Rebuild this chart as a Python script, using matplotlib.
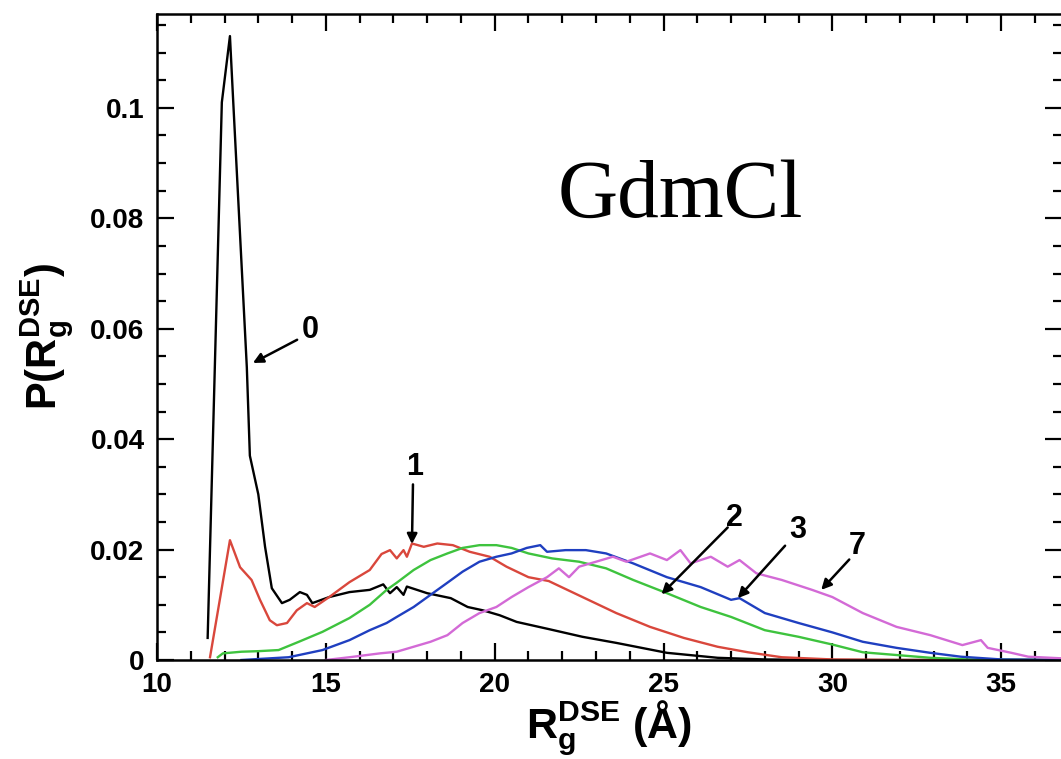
import matplotlib
matplotlib.use("Agg")
import matplotlib.pyplot as plt
from matplotlib.ticker import MultipleLocator, FixedLocator

# Rg distributions of the denatured state ensemble at several GdmCl concentrations (M)
x_0M = [11.5, 11.92, 12.16, 12.25, 12.66, 12.75, 13.0, 13.2, 13.4, 13.7, 13.93, 14.23, 14.44, 14.6,
        15.1, 15.7, 16.3, 16.7, 16.9, 17.1, 17.3, 17.4, 18.0, 18.7, 19.2, 19.65, 20.15, 20.65, 21.6,
        22.6, 23.6, 25.1, 26.6, 28.0, 30.0, 32.0, 36.8]
p_0M = [0.004, 0.101, 0.113, 0.102, 0.053, 0.037, 0.030, 0.0205, 0.013, 0.0103, 0.0109, 0.0123, 0.0118, 0.0103,
        0.0114, 0.0123, 0.0127, 0.0137, 0.0121, 0.0132, 0.0118, 0.0133, 0.0121, 0.0112, 0.0096, 0.0090, 0.0081, 0.0069, 0.0056,
        0.0042, 0.0031, 0.0013, 0.0004, 0.0001, 0.0, 0.0, 0.0]

x_1M = [11.57, 12.16, 12.46, 12.8, 13.05, 13.34, 13.55, 13.85, 14.14, 14.44, 14.67, 15.1, 15.7, 16.3,
        16.65, 16.9, 17.1, 17.3, 17.4, 17.55, 17.9, 18.3, 18.76, 19.26, 19.85, 20.35, 21.0, 21.6, 22.6,
        23.6, 24.6, 25.6, 26.6, 27.5, 28.5, 30.0, 32.0, 36.8]
p_1M = [0.0005, 0.0217, 0.0168, 0.0145, 0.0109, 0.0072, 0.0063, 0.0067, 0.009, 0.0103, 0.0096, 0.0114, 0.0141, 0.0163,
        0.0192, 0.0199, 0.0184, 0.0199, 0.0187, 0.0211, 0.0205, 0.0211, 0.0208, 0.0196, 0.0187, 0.0169, 0.0150, 0.0143, 0.0114,
        0.0085, 0.006, 0.004, 0.0024, 0.0014, 0.0005, 0.0001, 0.0, 0.0]

x_2M = [11.8, 11.95, 12.5, 13.0, 13.6, 14.2, 14.9, 15.7, 16.3, 16.8, 17.1, 17.6, 18.1, 18.6, 19.05,
        19.55, 20.05, 20.5, 21.0, 21.7, 22.5, 23.3, 24.1, 25.1, 26.1, 27.0, 28.0, 29.0, 30.0, 30.9,
        31.9, 32.9, 34.0, 36.8]
p_2M = [0.0005, 0.0012, 0.0015, 0.0016, 0.0018, 0.0033, 0.0051, 0.0076, 0.01, 0.0127, 0.014, 0.0163, 0.0181, 0.0193, 0.0203,
        0.0208, 0.0208, 0.0203, 0.0193, 0.0184, 0.0178, 0.0166, 0.0145, 0.0121, 0.0096, 0.0078, 0.0054, 0.0042, 0.0028, 0.0014,
        0.0009, 0.0004, 0.0001, 0.0]

x_3M = [12.5, 13.9, 14.9, 15.7, 16.3, 16.8, 17.1, 17.6, 18.1, 18.6, 19.05, 19.55, 20.05, 20.5, 20.95,
        21.35, 21.55, 22.1, 22.7, 23.3, 24.1, 25.1, 26.1, 27.0, 27.25, 28.0, 29.0, 30.0, 30.9, 31.9,
        32.9, 33.8, 35.0, 36.8]
p_3M = [0.0, 0.0005, 0.0018, 0.0036, 0.0054, 0.0067, 0.0078, 0.0096, 0.0118, 0.014, 0.016, 0.0178, 0.0187, 0.0193, 0.0203,
        0.0208, 0.0196, 0.0199, 0.0199, 0.0193, 0.0175, 0.015, 0.0132, 0.0109, 0.0112, 0.0085, 0.0067, 0.005, 0.0033, 0.0022,
        0.0013, 0.0006, 0.0001, 0.0]

x_7M = [15.0, 15.7, 16.6, 17.1, 17.6, 18.1, 18.6, 19.05, 19.55, 20.05, 20.5, 21.0, 21.55, 21.9, 22.2,
        22.5, 23.0, 23.5, 23.9, 24.6, 25.1, 25.5, 25.8, 26.4, 26.9, 27.25, 27.75, 28.5, 29.4, 30.0,
        30.9, 31.9, 32.9, 33.85, 34.4, 34.6, 35.3, 35.8, 36.8]
p_7M = [0.0, 0.0005, 0.0012, 0.0015, 0.0024, 0.0033, 0.0045, 0.0067, 0.0085, 0.0096, 0.0114, 0.0132, 0.015, 0.0166, 0.015,
        0.0169, 0.0178, 0.0187, 0.0178, 0.0193, 0.0181, 0.0199, 0.0175, 0.0187, 0.0169, 0.0181, 0.0157, 0.0145, 0.0127, 0.0114,
        0.0085, 0.006, 0.0045, 0.0027, 0.0036, 0.0022, 0.0013, 0.0006, 0.0003]

# curve labels: (text, label position, arrow tail, arrow tip)
labels = [
    ("0", (14.55, 0.0598), (14.15, 0.0580), (12.84, 0.0538)),
    ("1", (17.63, 0.0350), (17.58, 0.0318), (17.55, 0.0210)),
    ("2", (27.1, 0.0257), (26.9, 0.0240), (24.94, 0.0119)),
    ("3", (28.98, 0.0236), (28.6, 0.0207), (27.2, 0.0112)),
    ("7", (30.75, 0.0207), (30.5, 0.0182), (29.67, 0.0127)),
]

yticks = [0, 0.02, 0.04, 0.06, 0.08, 0.1]
ytick_labels = ["0", "0.02", "0.04", "0.06", "0.08", "0.1"]
xticks = [10, 15, 20, 25, 30, 35]

plt.rcParams["font.family"] = "Liberation Sans"
plt.rcParams["font.weight"] = "bold"
plt.rcParams["mathtext.fontset"] = "custom"
plt.rcParams["mathtext.rm"] = "Liberation Sans:bold"
plt.rcParams["mathtext.bf"] = "Liberation Sans:bold"
plt.rcParams["mathtext.it"] = "Liberation Sans:bold"

fig = plt.figure(figsize=(10.61, 7.59), dpi=100)
ax = fig.add_axes([157 / 1061, 1 - 660 / 759, 905 / 1061, 646 / 759])

lw = 1.7
ax.plot(x_0M, p_0M, color="black", lw=lw)
ax.plot(x_1M, p_1M, color="#d9473c", lw=lw)
ax.plot(x_2M, p_2M, color="#3ec33e", lw=lw)
ax.plot(x_3M, p_3M, color="#1f3fc0", lw=lw)
ax.plot(x_7M, p_7M, color="#d36ad6", lw=lw)

for txt, pos, tail, tip in labels:
    ax.text(pos[0], pos[1], txt, fontsize=22, fontweight="bold", ha="center", va="center")
    ax.annotate("", xy=tip, xytext=tail,
                arrowprops=dict(arrowstyle="-|>", color="black", lw=1.8,
                                mutation_scale=15, shrinkA=0, shrinkB=0))

ax.text(25.5, 0.0802, "GdmCl", family="Liberation Serif", fontweight="normal",
        fontsize=60, ha="center", va="baseline")

ax.set_xlim(10, 36.8)
ax.set_ylim(0, 0.117)
ax.xaxis.set_major_locator(FixedLocator(xticks))
ax.xaxis.set_minor_locator(MultipleLocator(1))
ax.set_yticks(yticks, ytick_labels)
ax.yaxis.set_minor_locator(MultipleLocator(0.005))
ax.tick_params(which="both", direction="in", top=True, right=True, width=1.6,
               labelsize=20, pad=9)
ax.tick_params(which="major", length=12)
ax.tick_params(which="minor", length=6.5)
for s in ax.spines.values():
    s.set_linewidth(1.8)

ax.set_xlabel(r"$\mathbf{R_g^{DSE}}$ (Å)", fontsize=31, fontweight="bold", labelpad=0)
ax.set_ylabel(r"P($\mathbf{R_g^{DSE}}$)", fontsize=30, fontweight="bold", labelpad=10)

fig.savefig("out.png", dpi=100)
